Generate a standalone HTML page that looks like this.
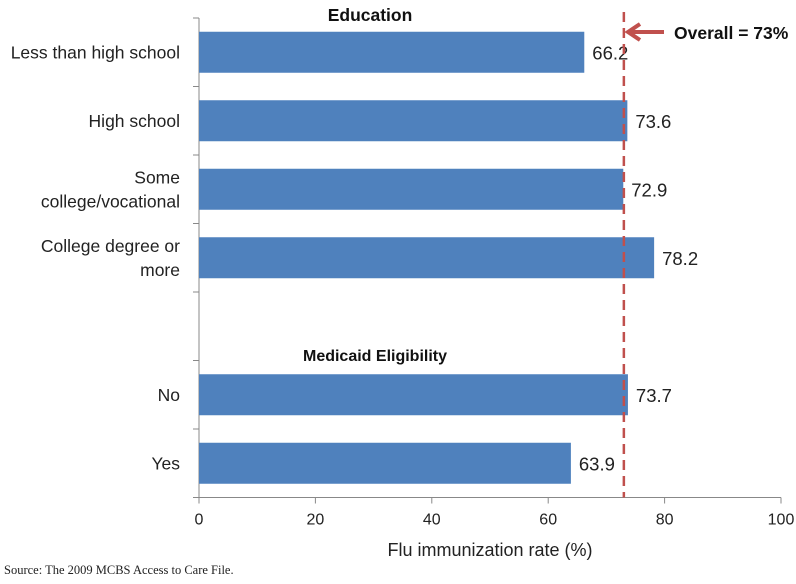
<!DOCTYPE html>
<html><head><meta charset="utf-8"><style>
body{margin:0;background:#fff;}
svg text{font-family:"Liberation Sans",sans-serif;}
</style></head><body>
<svg width="796" height="579">
<g id="g"></g>
</svg>
<script>
const categories=["Less than high school","High school","Some|college/vocational","College degree or|more","","No","Yes"];
const values=[66.2,73.6,72.9,78.2,null,73.7,63.9];
const ticks=[0,20,40,60,80,100];
const overall=73;
const NS="http://www.w3.org/2000/svg";
const g=document.getElementById('g');
const x0=199,xs=5.82,yTop=18,pitch=68.5;
const X=v=>x0+v*xs;
function el(t,a,txt){const e=document.createElementNS(NS,t);for(const k in a)e.setAttribute(k,a[k]);if(txt!=null)e.textContent=txt;g.appendChild(e);return e;}
const yBot=yTop+categories.length*pitch;
let ax=el('line',{x1:x0,y1:yTop,x2:x0,y2:yBot,stroke:'#888','stroke-width':1});


let bx=el('line',{x1:x0,y1:yBot,x2:X(100),y2:yBot,stroke:'#888','stroke-width':1});


for(let i=0;i<=categories.length;i++){el('line',{x1:x0-6,y1:yTop+i*pitch,x2:x0,y2:yTop+i*pitch,stroke:'#888'});}
ticks.forEach(t=>{el('line',{x1:X(t),y1:yBot,x2:X(t),y2:yBot+6,stroke:'#888'});
 let l=el('text',{x:X(t),y:yBot+27,'text-anchor':'middle','font-size':16,fill:'#222'},t);
 
 });
categories.forEach((c,i)=>{
 const cy=yTop+i*pitch+pitch/2;
 const lines=c.split('|');
 lines.forEach((ln,j)=>{let t=el('text',{x:180,y:cy+6+(j-(lines.length-1)/2)*24,'text-anchor':'end','font-size':17.5,fill:'#222'},ln);
  
  });
 if(values[i]!=null){
  let b=el('rect',{x:x0,y:cy-20.5,width:X(values[i])-x0,height:41,fill:'#4f81bd'});
  
  
  let v=el('text',{x:X(values[i])+8,y:cy+7,'font-size':18.5,fill:'#222'},values[i].toFixed(1));
  
  
 }
});
let d=el('line',{x1:X(overall),y1:12,x2:X(overall),y2:yBot,stroke:'#c0504d','stroke-width':2.5,'stroke-dasharray':'10,6'});


let h1=el('text',{x:370,y:21,'text-anchor':'middle','font-size':17.5,'font-weight':'bold',fill:'#111'},'Education');


let h2=el('text',{x:375,y:361,'text-anchor':'middle','font-size':16,'font-weight':'bold',fill:'#111'},'Medicaid Eligibility');


let ar=el('path',{d:'M664 32 L630 32 M640 24 L628 32 L640 40',stroke:'#c0504d','stroke-width':4,fill:'none'});


let ov=el('text',{x:674,y:39,'font-size':17.5,'font-weight':'bold',fill:'#111'},'Overall = 73%');


let xt=el('text',{x:490,y:556,'text-anchor':'middle','font-size':18,fill:'#222'},'Flu immunization rate (%)');


let src=el('text',{x:4,y:574,'font-size':12.5,fill:'#222'},'Source:  The 2009 MCBS Access to Care File.');


src.style.fontFamily='"Liberation Serif",serif';
</script>
</body></html>
